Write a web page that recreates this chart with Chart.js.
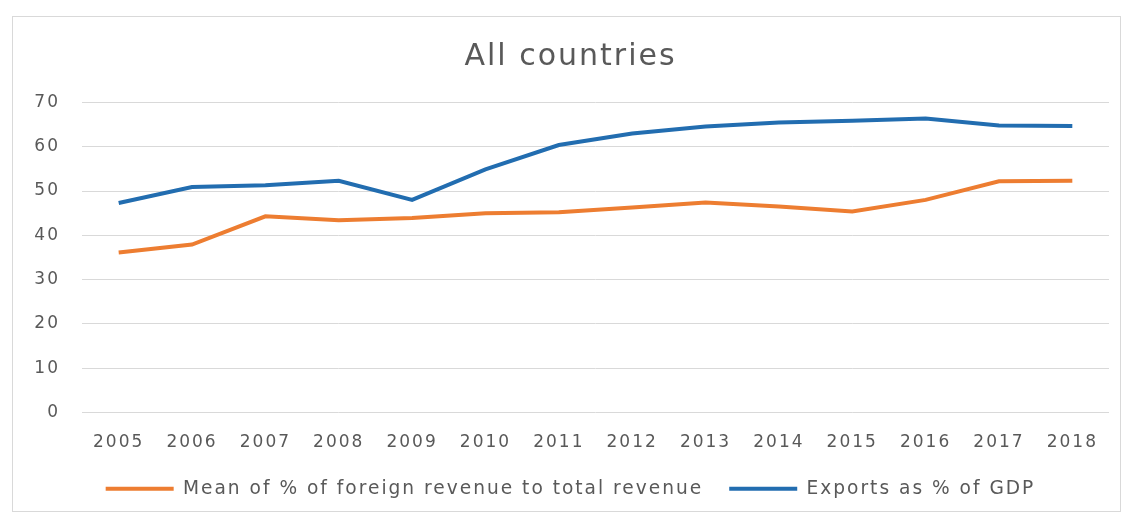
<!DOCTYPE html>
<html>
<head>
<meta charset="utf-8">
<title>All countries</title>
<script src="https://cdn.jsdelivr.net/npm/chart.js@4/dist/chart.umd.min.js"></script>
<style>
  html, body { margin: 0; padding: 0; background: #ffffff; }
  #wrap { position: relative; width: 1126px; height: 515px; overflow: hidden; }
  #frame { position: absolute; left: 12px; top: 16px; width: 1109px; height: 496px;
           border: 1px solid #d9d9d9; box-sizing: border-box; pointer-events: none; }
  canvas { position: absolute; left: 0; top: 0; }
</style>
</head>
<body>
<div id="wrap">
  <div id="frame"></div>
  <canvas id="chart" width="1126" height="515"></canvas>
</div>
<script>
// Years on the category axis
const years = ['2005', '2006', '2007', '2008', '2009', '2010', '2011',
               '2012', '2013', '2014', '2015', '2016', '2017', '2018'];

// Mean share of foreign revenue in total revenue (%)
const foreignRevenueShare = [36.1, 37.9, 44.3, 43.4, 43.9, 45.0, 45.2,
                             46.3, 47.4, 46.5, 45.4, 48.0, 52.2, 52.3];

// Exports as a share of GDP (%)
const exportsShareGdp = [47.3, 50.9, 51.3, 52.3, 48.0, 54.9, 60.4,
                         63.0, 64.6, 65.5, 65.9, 66.4, 64.8, 64.7];

// Value axis ticks
const yTicks = [0, 10, 20, 30, 40, 50, 60, 70];

const seriesNames = ['Mean of % of foreign revenue to total revenue', 'Exports as % of GDP'];
const seriesColors = ['#ED7D31', '#226DB0'];

const FONT = "'DejaVu Sans', 'Noto Sans', sans-serif";
const TEXT = '#595959';
const GRID = '#d9d9d9';

// wider letter spacing for every text drawn on the canvas
const textSpacing = {
  id: 'textSpacing',
  beforeUpdate(chart) { chart.ctx.letterSpacing = '2px'; },
  beforeDraw(chart) { chart.ctx.letterSpacing = '2px'; }
};

new Chart(document.getElementById('chart'), {
  type: 'line',
  data: {
    labels: years,
    datasets: [
      {
        label: seriesNames[0],
        data: foreignRevenueShare,
        borderColor: seriesColors[0],
        backgroundColor: seriesColors[0],
        borderWidth: 4,
        pointRadius: 0,
        tension: 0
      },
      {
        label: seriesNames[1],
        data: exportsShareGdp,
        borderColor: seriesColors[1],
        backgroundColor: seriesColors[1],
        borderWidth: 4,
        pointRadius: 0,
        tension: 0
      }
    ]
  },
  options: {
    responsive: false,
    animation: false,
    devicePixelRatio: 1,
    layout: { padding: { left: 32, right: 17, top: 16, bottom: 7 } },
    plugins: {
      tooltip: { enabled: false },
      title: {
        display: true,
        text: 'All countries',
        color: TEXT,
        font: { family: FONT, size: 30, weight: 'normal' },
        padding: { top: 23, bottom: 27.5 }
      },
      legend: {
        position: 'bottom',
        labels: {
          color: TEXT,
          font: { family: FONT, size: 18.6 },
          boxWidth: 68,
          boxHeight: 4,
          padding: 26,
          generateLabels(chart) {
            return Chart.defaults.plugins.legend.labels.generateLabels(chart)
              .map(item => Object.assign(item, { lineWidth: 0 }));
          }
        }
      }
    },
    scales: {
      x: {
        type: 'category',
        offset: true,
        grid: { display: false, drawTicks: false },
        border: { display: false },
        ticks: {
          color: TEXT,
          font: { family: FONT, size: 17 },
          padding: 20,
          maxRotation: 0,
          autoSkip: false
        },
        afterFit(scale) { scale.height = 41; }
      },
      y: {
        min: 0,
        max: 70,
        afterBuildTicks(scale) { scale.ticks = yTicks.map(v => ({ value: v })); },
        grid: { color: GRID, lineWidth: 1, drawTicks: false },
        border: { display: false },
        ticks: {
          color: TEXT,
          font: { family: FONT, size: 17 },
          padding: 22
        },
        afterFit(scale) { scale.width = 50; }
      }
    }
  },
  plugins: [textSpacing]
});
</script>
</body>
</html>
